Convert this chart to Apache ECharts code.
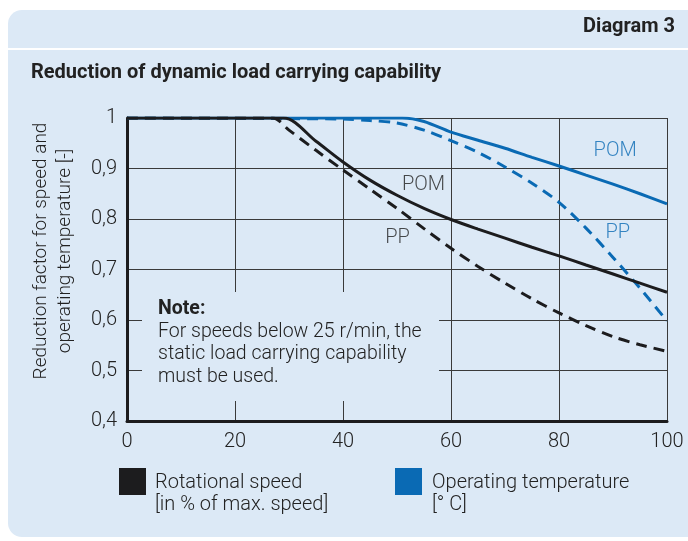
<!DOCTYPE html>
<html><head><meta charset="utf-8">
<script src="https://cdn.jsdelivr.net/npm/echarts@6/dist/echarts.min.js"></script>
<style>html,body{margin:0;padding:0;background:#fff}#c{width:688px;height:541px}</style>
</head><body><div id="c"></div><script>
// ---- data ----
const xTickLabels = ['0','20','40','60','80','100'];
const yTickLabels = ['0,4','0,5','0,6','0,7','0,8','0,9','1'];

// Rotational speed [% of max speed] – POM (solid black)
const speedPomX = [0, 29, 35, 40, 45, 50, 55, 60, 65, 70, 75, 80, 85, 90, 95, 100];
const speedPomY = [1, 1, 0.954, 0.913, 0.877, 0.847, 0.821, 0.799, 0.780, 0.762, 0.744, 0.727, 0.709, 0.691, 0.673, 0.655];
// Rotational speed – PP (dashed black)
const speedPpX = [0, 27, 30, 35, 40, 45, 50, 55, 60, 65, 70, 75, 80, 85, 90, 95, 100];
const speedPpY = [1, 1, 0.976, 0.936, 0.897, 0.859, 0.821, 0.781, 0.742, 0.706, 0.673, 0.642, 0.614, 0.589, 0.567, 0.551, 0.538];
// Operating temperature [°C] – POM (solid blue)
const tempPomX = [0, 51, 55, 60, 65, 70, 75, 80, 85, 90, 95, 100];
const tempPomY = [1, 1, 0.993, 0.972, 0.956, 0.94, 0.922, 0.905, 0.887, 0.869, 0.85, 0.83];
// Operating temperature – PP (dashed blue)
const tempPpX = [0, 40, 45, 50, 55, 60, 65, 70, 75, 80, 85, 90, 95, 100];
const tempPpY = [1, 0.998, 0.995, 0.99, 0.976, 0.955, 0.932, 0.903, 0.871, 0.833, 0.782, 0.724, 0.663, 0.598];

// curve labels (data coordinates)
const curveLabelText = ['POM', 'PP', 'POM', 'PP'];
const curveLabelX = [54.9, 50.1, 90.4, 90.9];
const curveLabelY = [0.868, 0.762, 0.934, 0.773];
const curveLabelColor = ['#1e1e1e', '#1e1e1e', '#0a6ab4', '#0a6ab4'];

const titleText = 'Reduction of dynamic load carrying capability';
const headerText = 'Diagram 3';
const yNameLines = ['Reduction factor for speed and', 'operating temperature [-]'];
const noteHead = 'Note:';
const noteLines = ['For speeds below 25 r/min, the', 'static load carrying capability', 'must be used.'];
const legendLines = [['Rotational speed', '[in % of max. speed]'], ['Operating temperature', '[° C]']];

// ---- styles ----
const BG = '#dce9f6';
const BLACK = '#1c1c1e';
const BLUE = '#0a6ab4';
const FONT = 'Roboto, "Noto Sans", sans-serif';
const TXT = '#222';
const FW = 300;

const zip = (xs, ys) => xs.map((x, i) => [x, ys[i]]);

const chart = echarts.init(document.getElementById('c'), null, {renderer: 'canvas'});

const lineSeries = (name, xs, ys, color, dashed, z) => ({
  name, type: 'line', data: zip(xs, ys), symbol: 'none',
  smooth: 0.3, z,
  lineStyle: {color, width: 3, type: dashed ? [11, 7] : 'solid', cap: 'butt'},
  animation: false
});

const txt = (x, y, text, size, extra) => ({
  type: 'text', z: 10, x, y,
  style: Object.assign({text, fontFamily: FONT, fontSize: size, fontWeight: FW, fill: TXT, textAlign: 'left', textVerticalAlign: 'middle'}, extra || {})
});

const option = {
  backgroundColor: '#ffffff',
  animation: false,
  grid: {left: 127, top: 118, width: 540, height: 303, containLabel: false},
  xAxis: {
    type: 'value', min: 0, max: 100, interval: 20,
    axisLine: {show: true, onZero: false, lineStyle: {color: BLACK, width: 3}},
    axisTick: {show: false},
    splitLine: {show: true, lineStyle: {color: '#3a3a3a', width: 1}},
    axisLabel: {fontFamily: FONT, fontSize: 20, fontWeight: FW, color: TXT, margin: 11,
      formatter: (v) => xTickLabels[Math.round(v / 20)]}
  },
  yAxis: {
    type: 'value', min: 0.4, max: 1, interval: 0.1,
    axisLine: {show: true, onZero: false, lineStyle: {color: BLACK, width: 3}},
    axisTick: {show: false},
    splitLine: {show: true, lineStyle: {color: '#3a3a3a', width: 1}},
    axisLabel: {fontFamily: FONT, fontSize: 20, fontWeight: FW, color: TXT, margin: 10,
      formatter: (v) => yTickLabels[Math.round((v - 0.4) * 10)]}
  },
  series: [
    lineSeries('Temp PP', tempPpX, tempPpY, BLUE, true, 2),
    lineSeries('Temp POM', tempPomX, tempPomY, BLUE, false, 3),
    lineSeries('Speed PP', speedPpX, speedPpY, BLACK, true, 4),
    lineSeries('Speed POM', speedPomX, speedPomY, BLACK, false, 5),
    {
      type: 'scatter', z: 6, symbol: 'circle', symbolSize: 1,
      itemStyle: {color: 'rgba(0,0,0,0)'},
      data: curveLabelText.map((t, i) => ({
        name: t, value: [curveLabelX[i], curveLabelY[i]],
        label: {color: curveLabelColor[i]}
      })),
      label: {show: true, position: 'inside', formatter: '{b}', fontFamily: FONT, fontSize: 20, fontWeight: FW},
      silent: true
    }
  ],
  graphic: [
    // card
    {type: 'rect', z: -10, shape: {x: 8, y: 10, width: 700, height: 527, r: [14, 0, 0, 14]}, style: {fill: BG}},
    {type: 'rect', z: -9, shape: {x: 8, y: 48, width: 700, height: 2}, style: {fill: '#ffffff'}},
    txt(675, 27, headerText, 20, {fontWeight: 'bold', textAlign: 'right'}),
    txt(31, 73, titleText, 20, {fontWeight: 'bold'}),
    // y axis name (rotated)
    Object.assign(txt(41, 251, yNameLines[0], 19, {textAlign: 'center'}), {rotation: Math.PI / 2}),
    Object.assign(txt(65, 251, yNameLines[1], 19, {textAlign: 'center'}), {rotation: Math.PI / 2}),
    // note box (covers grid lines)
    {type: 'rect', z: 1, shape: {x: 142, y: 292, width: 297, height: 109}, style: {fill: BG}},
    txt(158, 309, noteHead, 19.5, {fontWeight: 'bold'}),
    txt(158, 332, noteLines[0], 19.5),
    txt(158, 354, noteLines[1], 19.5),
    txt(158, 377, noteLines[2], 19.5),
    // legend
    {type: 'rect', z: 10, shape: {x: 119, y: 468, width: 27, height: 27}, style: {fill: BLACK}},
    txt(155, 483, legendLines[0][0], 20),
    txt(155, 505, legendLines[0][1], 20),
    {type: 'rect', z: 10, shape: {x: 395, y: 468, width: 27, height: 27}, style: {fill: BLUE}},
    txt(432, 483, legendLines[1][0], 20),
    txt(432, 505, legendLines[1][1], 20)
  ]
};
chart.setOption(option);
</script></body></html>
